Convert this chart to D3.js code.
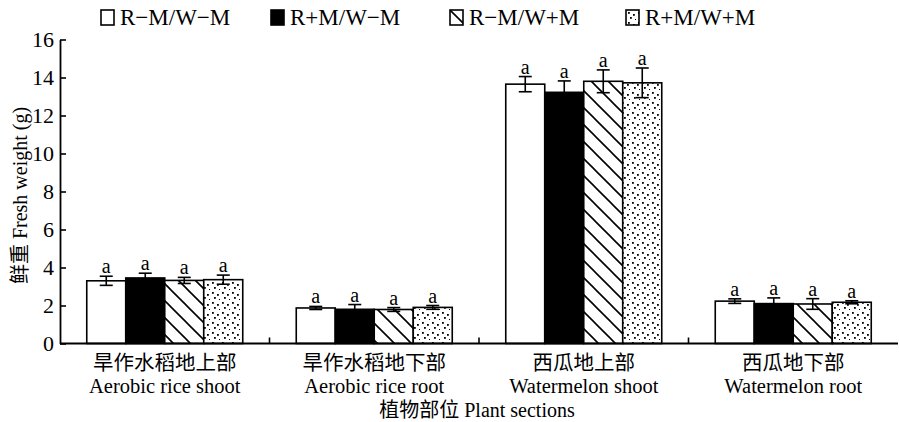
<!DOCTYPE html>
<html><head><meta charset="utf-8">
<script src="https://cdn.jsdelivr.net/npm/d3@7"></script>
<style>
html,body{margin:0;padding:0;background:#fff;}
svg{display:block;}
text{font-family:"Liberation Serif","Noto Sans CJK SC",serif;fill:#000;}
</style></head>
<body>
<svg id="chart" width="899" height="422"></svg>
<script>
// ---- data ----
const categoriesZh = ["旱作水稻地上部", "旱作水稻地下部", "西瓜地上部", "西瓜地下部"];
const categoriesEn = ["Aerobic rice shoot", "Aerobic rice root", "Watermelon shoot", "Watermelon root"];
const seriesNames = ["R\u2212M/W\u2212M", "R+M/W\u2212M", "R\u2212M/W+M", "R+M/W+M"];
const valuesS1 = [3.30, 1.87, 13.65, 2.23];
const valuesS2 = [3.45, 1.80, 13.22, 2.10];
const valuesS3 = [3.32, 1.79, 13.80, 2.08];
const valuesS4 = [3.36, 1.90, 13.72, 2.17];
const errorsS1 = [0.24, 0.08, 0.40, 0.12];
const errorsS2 = [0.25, 0.25, 0.60, 0.30];
const errorsS3 = [0.16, 0.10, 0.60, 0.28];
const errorsS4 = [0.24, 0.10, 0.78, 0.08];
const lettersS1 = ["a", "a", "a", "a"];
const lettersS2 = ["a", "a", "a", "a"];
const lettersS3 = ["a", "a", "a", "a"];
const lettersS4 = ["a", "a", "a", "a"];
const yTicks = [0, 2, 4, 6, 8, 10, 12, 14, 16];
const yTitle = "鲜重 Fresh weight (g)";
const xTitle = "植物部位 Plant sections";

const seriesValues = [valuesS1, valuesS2, valuesS3, valuesS4];
const seriesErrors = [errorsS1, errorsS2, errorsS3, errorsS4];
const seriesLetters = [lettersS1, lettersS2, lettersS3, lettersS4];
const fills = ["#fff", "#000", "url(#hatch)", "url(#dots)"];

const svg = d3.select("#chart");
const mLeft = 60, mRight = 898, mTop = 39.5, mBottom = 343.5;

// patterns
const defs = svg.append("defs");
const hs = 17;
const hatch = defs.append("pattern").attr("id", "hatch").attr("patternUnits", "userSpaceOnUse")
  .attr("width", hs).attr("height", hs);
hatch.append("rect").attr("width", hs).attr("height", hs).attr("fill", "#fff");
hatch.append("path").attr("d", `M-4,-4 L${hs + 4},${hs + 4} M${-hs - 4},-4 L4,${hs + 4} M${hs - 4},-4 L${2 * hs + 4},${hs + 4}`)
  .attr("stroke", "#000").attr("stroke-width", 1.6);
const dots = defs.append("pattern").attr("id", "dots").attr("patternUnits", "userSpaceOnUse")
  .attr("width", 10).attr("height", 10);
dots.append("rect").attr("width", 10).attr("height", 10).attr("fill", "#fff");
[[2, 2], [7, 4], [4, 7], [9, 9]].forEach(p => dots.append("rect").attr("x", p[0]).attr("y", p[1])
  .attr("width", 1.8).attr("height", 1.8).attr("fill", "#000"));

// scales
const x0 = d3.scaleBand().domain(categoriesEn).range([mLeft, mRight]).paddingInner(0).paddingOuter(0);
const x1 = d3.scaleBand().domain(seriesNames).range([0, x0.bandwidth()]).paddingInner(0).paddingOuter(0.686);
const y = d3.scaleLinear().domain([0, 16]).range([mBottom, mTop]);

// bars
const g = svg.append("g");
seriesNames.forEach((s, si) => {
  categoriesEn.forEach((c, ci) => {
    const v = seriesValues[si][ci];
    g.append("rect")
      .attr("x", x0(c) + x1(s)).attr("y", y(v))
      .attr("width", x1.bandwidth()).attr("height", y(0) - y(v))
      .attr("fill", fills[si]).attr("stroke", "#000").attr("stroke-width", 1.6);
  });
});
// error bars + letters
seriesNames.forEach((s, si) => {
  categoriesEn.forEach((c, ci) => {
    const v = seriesValues[si][ci], e = seriesErrors[si][ci];
    const cx = x0(c) + x1(s) + x1.bandwidth() / 2;
    const eb = g.append("g").attr("stroke", "#000").attr("stroke-width", 1.6);
    eb.append("line").attr("x1", cx).attr("x2", cx).attr("y1", y(v + e)).attr("y2", y(v - e));
    eb.append("line").attr("x1", cx - 6.5).attr("x2", cx + 6.5).attr("y1", y(v + e)).attr("y2", y(v + e));
    eb.append("line").attr("x1", cx - 6.5).attr("x2", cx + 6.5).attr("y1", y(v - e)).attr("y2", y(v - e));
    g.append("text").attr("x", cx).attr("y", y(v + e) - 3).attr("text-anchor", "middle")
      .attr("font-size", 20).text(seriesLetters[si][ci]);
  });
});

// y axis
const yAxis = d3.axisLeft(y).tickValues(yTicks).tickSizeInner(-6).tickSizeOuter(0).tickPadding(6);
const ya = svg.append("g").attr("transform", `translate(${mLeft},0)`).call(yAxis);
ya.select(".domain").attr("stroke", "#000").attr("stroke-width", 1.8);
ya.selectAll(".tick line").attr("stroke", "#000").attr("stroke-width", 1.6);
ya.selectAll(".tick text").attr("font-size", 22).attr("font-family", "Liberation Serif").attr("fill", "#000");

// x axis
const xa = svg.append("g").attr("transform", `translate(0,${mBottom})`);
xa.append("line").attr("x1", mLeft).attr("x2", mRight).attr("y1", 0).attr("y2", 0)
  .attr("stroke", "#000").attr("stroke-width", 1.8);
categoriesEn.slice(1).forEach(c => {
  xa.append("line").attr("x1", x0(c)).attr("x2", x0(c)).attr("y1", 0).attr("y2", -6)
    .attr("stroke", "#000").attr("stroke-width", 1.6);
});
categoriesEn.forEach((c, ci) => {
  const cx = x0(c) + x0.bandwidth() / 2;
  xa.append("text").attr("x", cx).attr("y", 26).attr("text-anchor", "middle")
    .attr("font-size", 20.5).attr("font-family", "Noto Sans CJK SC").text(categoriesZh[ci]);
  xa.append("text").attr("x", cx).attr("y", 49).attr("text-anchor", "middle")
    .attr("font-size", 20.5).text(c);
});
svg.append("text").attr("x", (mLeft + mRight) / 2 - 2).attr("y", 417).attr("text-anchor", "middle")
  .attr("font-size", 20).text(xTitle);

// y title
svg.append("text").attr("transform", `translate(27,${(mTop + mBottom) / 2 + 4}) rotate(-90)`)
  .attr("text-anchor", "middle").attr("font-size", 20).text(yTitle);

// legend
const legX = [101, 271, 450, 626];
seriesNames.forEach((s, si) => {
  const lg = svg.append("g").attr("transform", `translate(${legX[si]},10)`);
  lg.append("rect").attr("x", 0).attr("y", 0).attr("width", 13).attr("height", 15)
    .attr("fill", fills[si]).attr("stroke", "#000").attr("stroke-width", 1.6);
  lg.append("text").attr("x", 19).attr("y", 15).attr("font-size", 23).text(s);
});
</script>
</body></html>
